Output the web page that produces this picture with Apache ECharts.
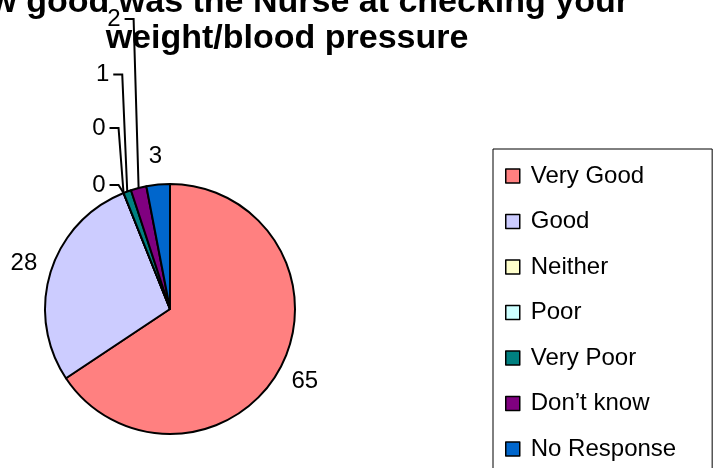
<!DOCTYPE html>
<html>
<head>
<meta charset="utf-8">
<style>
  html, body { margin: 0; padding: 0; background: #fff; }
  #chart { width: 714px; height: 468px; }
</style>
<script src="https://cdn.jsdelivr.net/npm/echarts@6/dist/echarts.min.js"></script>
</head>
<body>
<div id="chart"></div>
<script>
// chart data
const categories = ['Very Good', 'Good', 'Neither', 'Poor', 'Very Poor', 'Don\u2019t know', 'No Response'];
const values = [65, 28, 0, 0, 1, 2, 3];
const colors = ['#FF8080', '#CCCCFF', '#FFFFCC', '#CCFFFF', '#008080', '#800080', '#0066CC'];

const CX = 170, CY = 309, R = 125;
const FONT = '"Liberation Sans", Arial, sans-serif';
// small slices get stacked labels with elbow leader lines (excel style)
const leaderRise = { 2: 8, 3: 65, 4: 117, 5: 169 };

const chart = echarts.init(document.getElementById('chart'));

const option = {
  animation: false,
  color: colors,
  title: {
    text: 'How good was the Nurse at checking your\nweight/blood pressure',
    left: 287,
    top: -15,
    padding: 0,
    textAlign: 'center',
    textStyle: {
      fontFamily: FONT,
      fontSize: 34,
      fontWeight: 'bold',
      color: '#000',
      lineHeight: 36,
    },
  },
  legend: {
    orient: 'vertical',
    left: 493,
    top: 149,
    height: 340,
    padding: [15, 36, 14, 12],
    borderColor: '#000',
    borderWidth: 1,
    itemWidth: 14,
    itemHeight: 14,
    itemGap: 21.5,
    icon: 'rect',
    itemStyle: { borderColor: '#000', borderWidth: 1.5 },
    textStyle: {
      fontFamily: FONT,
      fontSize: 24,
      color: '#000',
      lineHeight: 24,
      padding: [0, 0, 0, 6],
    },
    data: categories,
  },
  series: [
    {
      type: 'pie',
      center: [CX, CY],
      radius: R,
      startAngle: 90,
      clockwise: true,
      avoidLabelOverlap: false,
      silent: true,
      emphasis: { disabled: true },
      itemStyle: { borderColor: '#000', borderWidth: 2 },
      label: {
        show: true,
        position: 'outside',
        formatter: '{c}',
        fontFamily: FONT,
        fontSize: 24,
        color: '#000',
      },
      labelLine: {
        show: true,
        length: 10,
        length2: 10,
        lineStyle: { color: '#000', width: 2 },
      },
      labelLayout: function (p) {
        const pts = p.labelLinePoints;
        if (!pts) {
          return {};
        }
        const ax = pts[0][0];
        const ay = pts[0][1];
        const rise = leaderRise[p.dataIndex];
        if (rise == null) {
          const k = 153 / R;
          return {
            x: CX + (ax - CX) * k,
            y: CY + (ay - CY) * k,
            align: 'center',
            verticalAlign: 'middle',
            labelLinePoints: [[ax, ay], [ax, ay]],
          };
        }
        const ly = ay - rise;
        const tx = ax - 5;
        return {
          x: tx - 13,
          y: ly,
          align: 'right',
          verticalAlign: 'middle',
          labelLinePoints: [[ax, ay], [tx, ly], [tx - 9, ly]],
        };
      },
      data: categories.map((name, i) => ({ name: name, value: values[i] })),
    },
  ],
};

chart.setOption(option);
</script>
</body>
</html>
